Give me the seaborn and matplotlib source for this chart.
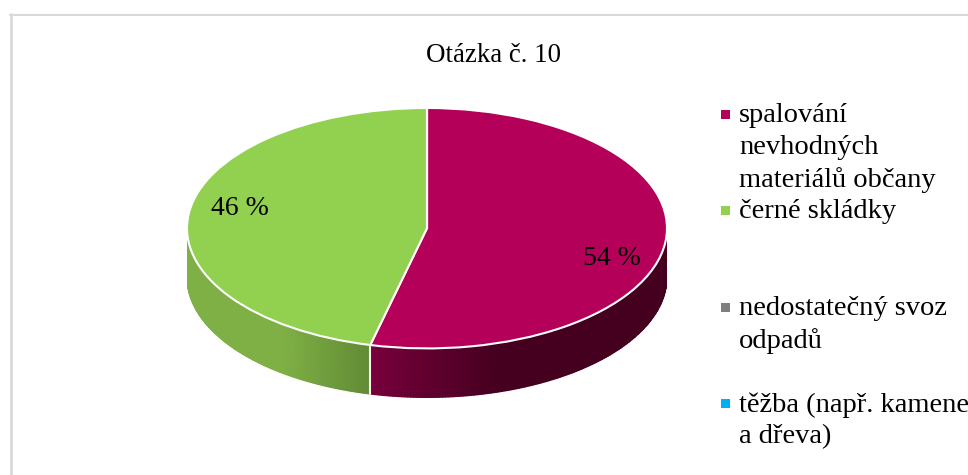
import numpy as np
import seaborn as sns
import matplotlib.pyplot as plt
from matplotlib.colors import LinearSegmentedColormap
from matplotlib.lines import Line2D
from matplotlib.patches import Rectangle

title = 'Otázka č. 10'
categories = ['spalování\nnevhodných\nmateriálů občany', 'černé skládky',
              'nedostatečný svoz\nodpadů', 'těžba (např. kamene\na dřeva)']
values = [53.8, 46.2, 0, 0]
colors = ['#b5005a', '#92d050', '#7f7f7f', '#00b0f0']

# side wall shades, from left to right
side_shades = [['#78003c', '#45001f', '#45001f'],
               ['#7fb045', '#7fb045', '#628c35']]
side_stops = [[(-0.24, 0), (0.3, 0.5), (1, 1)],
              [(-1, 0), (-0.6, 0.5), (-0.24, 1)]]

W, H = 968, 475
depth = 49 / 120

sns.set_theme(style='white')
plt.rcParams['font.family'] = ['Liberation Serif', 'DejaVu Serif']
sns.set_palette(colors)

fig = plt.figure(figsize=(W / 100, H / 100), dpi=100)
# axes cover the ellipse and the wall below it
ax = fig.add_axes([187 / W, (H - 397.5) / H, 480 / W, 289.5 / H])

wedges, _ = ax.pie(values, startangle=90, counterclock=False, colors=colors,
                   wedgeprops={'edgecolor': 'white', 'linewidth': 1.5, 'clip_on': False, 'zorder': 3})
ax.set_aspect('auto')

# the wall of each slice, only the part on the front of the disc
start = 90.0
for i in range(2):
    end = start - 360 * values[i] / sum(values)
    a1 = max(end, -180.0)
    a2 = min(start, 0.0)
    ang = np.radians(np.linspace(a1, a2, 150))
    xs = np.cos(ang)
    ys = np.sin(ang)
    X = np.vstack([xs, xs])
    Y = np.vstack([ys - depth, ys])
    lo, hi = side_stops[i][0][0], side_stops[i][-1][0]
    stops = [((p - lo) / (hi - lo), c) for (p, _), c in zip(side_stops[i], side_shades[i])]
    cmap = LinearSegmentedColormap.from_list('side%d' % i, stops)
    ax.pcolormesh(X, Y, X, shading='gouraud', cmap=cmap, vmin=lo, vmax=hi, zorder=1)
    start = end

# seam between the two walls
seam = np.radians(90 - 360 * values[0] / sum(values))
ax.plot([np.cos(seam)] * 2, [np.sin(seam) - depth, np.sin(seam)], color='#f2f2f2', lw=1.5, zorder=2)

ax.set_xlim(-1, 1)
ax.set_ylim(-1 - depth, 1)
ax.axis('off')

ax.text(0.77, -0.25, '%.0f %%' % values[0], ha='center', va='center', fontsize=20, color='black', zorder=5)
ax.text(-0.78, 0.165, '%.0f %%' % values[1], ha='center', va='center', fontsize=20, color='black', zorder=5)

fig.text(493 / W, 1 - 55 / H, title, ha='center', va='center', fontsize=19.4, color='black')

# legend, spaced unevenly in the source
legend_y = [114, 210, 307, 403]
for label, col, y in zip(categories, colors, legend_y):
    fig.text(739 / W, 1 - (y - 11) / H, label, ha='left', va='top', fontsize=20.5,
             linespacing=1.37, color='black')
    fig.add_artist(Rectangle((721 / W, 1 - (y + 4.5) / H), 9 / W, 9 / H, transform=fig.transFigure,
                             facecolor=col, edgecolor='none'))

# chart frame, runs off the crop on the right and bottom
frame = '#d9d9d9'
fig.add_artist(Line2D([11 / W, 11 / W], [0, 1 - 14 / H], color=frame, lw=2))
fig.add_artist(Line2D([10 / W, 1], [1 - 15 / H, 1 - 15 / H], color=frame, lw=1.5))

fig.savefig('out.png', dpi=100, facecolor='white')
